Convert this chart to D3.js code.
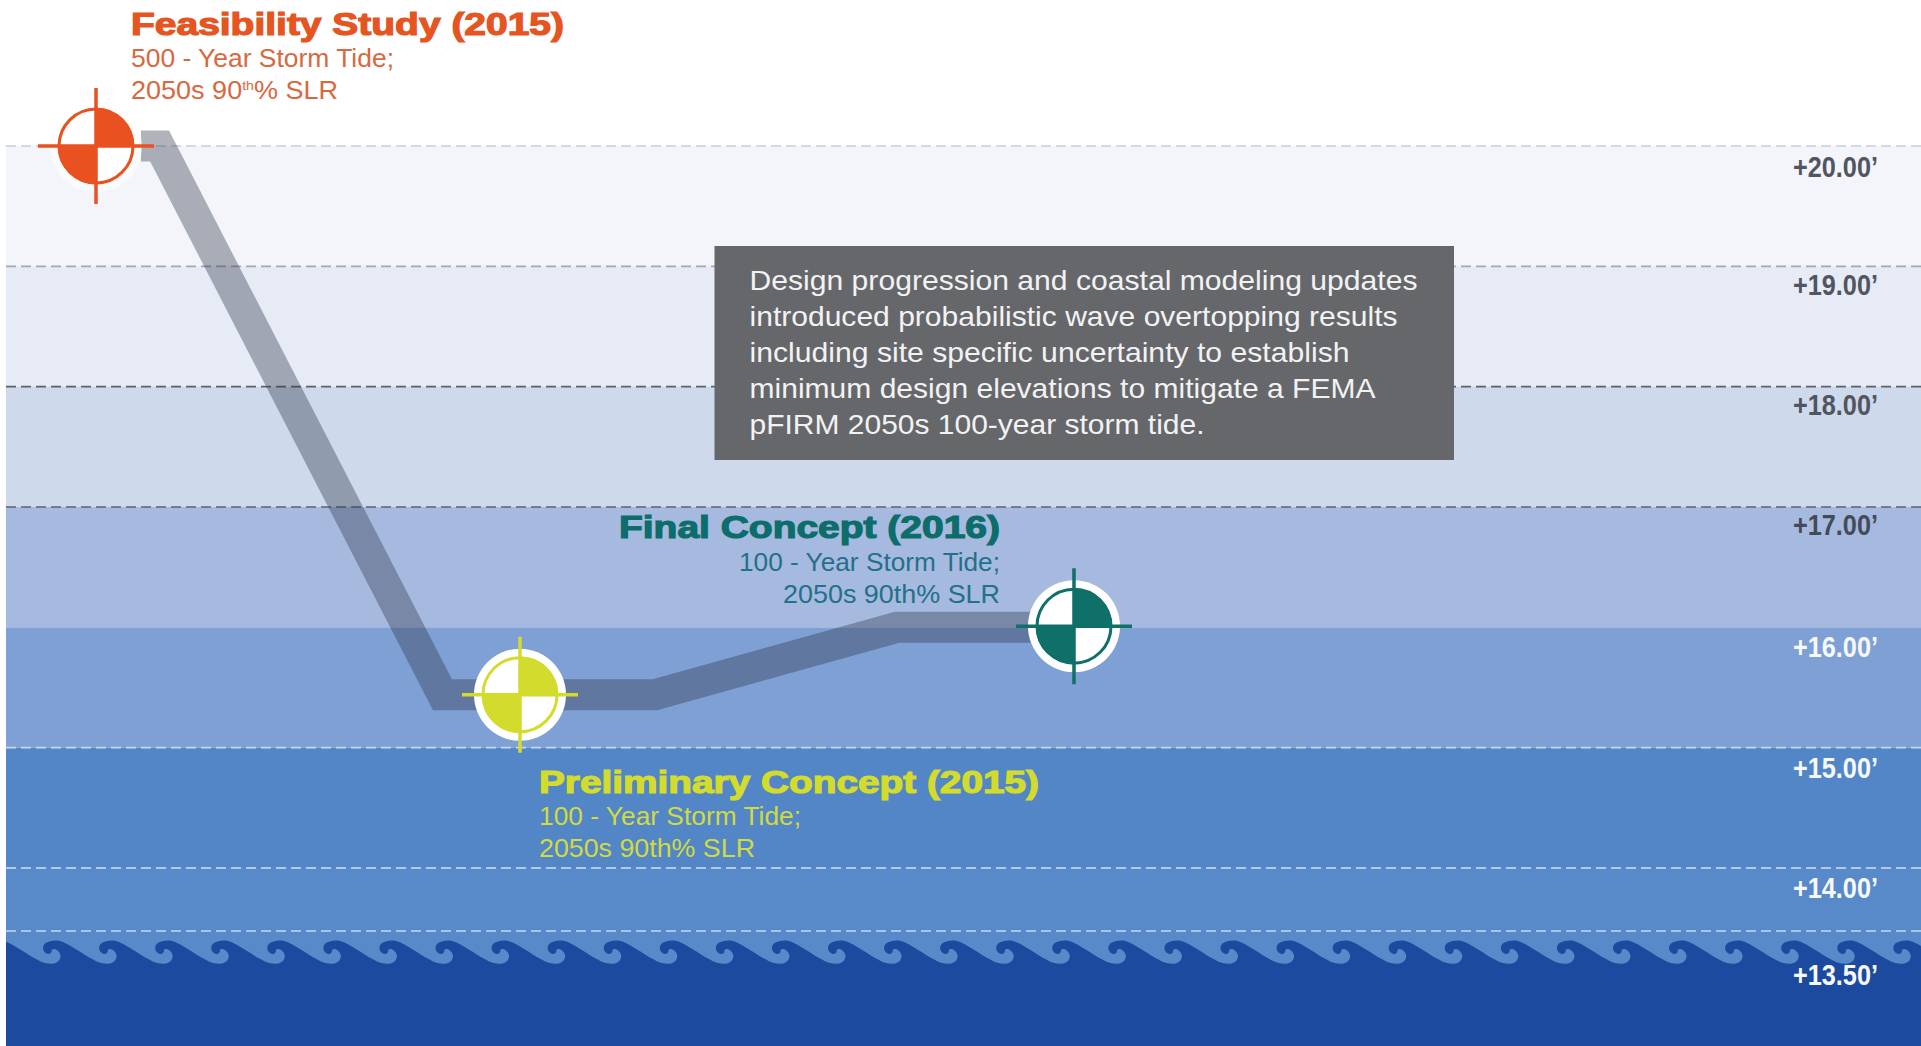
<!DOCTYPE html>
<html>
<head>
<meta charset="utf-8">
<title>Design elevation progression</title>
<script src="https://cdn.jsdelivr.net/npm/d3@7"></script>
<style>
  html, body { margin: 0; padding: 0; background: #fff; overflow: hidden; }
  svg { display: block; }
  text { font-family: "Liberation Sans", Arial, sans-serif; }
</style>
</head>
<body>
<svg id="chart" width="1921" height="1046"></svg>
<script>
// Elevation levels in feet, top to bottom
const levels = [20, 19, 18, 17, 16, 15, 14, 13.5];
const tickLabels = ["+20.00’", "+19.00’", "+18.00’", "+17.00’", "+16.00’", "+15.00’", "+14.00’", "+13.50’"];
const bandFills = ["#f3f5fa", "#e7ebf6", "#ced9ec", "#a6badf", "#7ea0d4", "#5386c6", "#5889c8"];
const lineColors = ["#c9cdd7", "#a3a7b1", "#5a606c", "#5b6274", null, "#c9d7ee", "#d4e0f2", "#c5d6f0"];
const tickColors = ["#50555f", "#50555f", "#50555f", "#454a58", "#f6f8fc", "#f6f8fc", "#f6f8fc", "#f6f8fc"];
const tickDrop = [31, 28.7, 28.3, 28, 29.7, 30.3, 30, 54];

// Design elevation route: position along the design timeline (percent) and elevation (ft)
const routeStage = [7.05, 8.02, 22.79, 33.89, 46.53, 55.77];
const routeElevation = [20, 20, 15.44, 15.44, 16, 16];

// Milestones
const milestoneNames = ["Feasibility Study (2015)", "Preliminary Concept (2015)", "Final Concept (2016)"];
const milestoneStage = [4.7, 26.84, 55.77];
const milestoneElevation = [20, 15.44, 16.01];
const milestoneColors = ["#ea5120", "#d3dc2c", "#0e7068"];

const calloutLines = [
  "Design progression and coastal modeling updates",
  "introduced probabilistic wave overtopping results",
  "including site specific uncertainty to establish",
  "minimum design elevations to mitigate a FEMA",
  "pFIRM 2050s 100-year storm tide."
];

const width = 1921, height = 1046, left = 6;
const svg = d3.select("#chart");

const x = d3.scaleLinear().domain([0, 100]).range([left, width]);
const y = d3.scaleLinear().domain([13.5, 14, 20]).range([931, 868, 146]);

// Elevation bands; the lowest one runs on behind the wave edge
svg.append("g").selectAll("rect")
  .data(bandFills)
  .join("rect")
  .attr("x", left)
  .attr("width", width - left)
  .attr("y", (d, i) => y(levels[i]))
  .attr("height", (d, i) => y(levels[i + 1]) - y(levels[i]) + (i === bandFills.length - 1 ? 50 : 0))
  .attr("fill", d => d);

// Open water with a breaking-wave edge, one crest shape repeated along the width
const waveShape = [
  [-18, 958.5], [-8, 963], [1, 963.5], [6, 960.5], [7.5, 955.5], [5, 951], [1.5, 949],
  [-1, 949.5], [-1.5, 952], [-4, 954], [-8, 952.5], [-10, 948], [-8, 943.5], [-2, 941], [4, 940.5],
  [12, 943], [25, 950.5]
];
const wavePeriod = 56.07, waveOrigin = 53;
const wavePoints = d3.range(-1, 35).flatMap(k =>
  waveShape.map(([dx, wy]) => [waveOrigin + k * wavePeriod + dx, wy]));
const waveLine = d3.line().curve(d3.curveCatmullRom.alpha(0.5));
svg.append("clipPath").attr("id", "plot-clip")
  .append("rect").attr("x", left).attr("y", 0).attr("width", width - left).attr("height", height);
svg.append("path")
  .attr("clip-path", "url(#plot-clip)")
  .attr("d", waveLine(wavePoints) + `L${width + 60},${height}L-60,${height}Z`)
  .attr("fill", "#1c4a9f");

// Dashed elevation lines
svg.append("g").selectAll("line")
  .data(levels.filter((d, i) => lineColors[i]))
  .join("line")
  .attr("x1", left).attr("x2", width)
  .attr("y1", d => y(d)).attr("y2", d => y(d))
  .attr("stroke", d => lineColors[levels.indexOf(d)])
  .attr("stroke-width", 1.6)
  .attr("stroke-dasharray", "10 5");

// Elevation labels, right side
svg.append("g").selectAll("text")
  .data(levels)
  .join("text")
  .attr("x", 1793)
  .attr("y", (d, i) => y(d) + tickDrop[i])
  .attr("fill", (d, i) => tickColors[i])
  .attr("font-weight", 700)
  .attr("font-size", 29)
  .attr("textLength", 85)
  .attr("lengthAdjust", "spacingAndGlyphs")
  .text((d, i) => tickLabels[i]);

// Route band between the milestones
const routeLine = d3.line().x(d => x(d[0])).y(d => y(d[1]));
svg.append("path")
  .attr("d", routeLine(d3.zip(routeStage, routeElevation)))
  .attr("fill", "none")
  .attr("stroke", "#2f374a")
  .attr("stroke-opacity", 0.38)
  .attr("stroke-width", 31)
  .attr("stroke-linejoin", "miter")
  .attr("stroke-miterlimit", 10);

// Callout
svg.append("rect")
  .attr("x", 714.5).attr("y", 246).attr("width", 739.5).attr("height", 214)
  .attr("fill", "#66676b");
const calloutWidths = [668, 648, 600, 626, 455];
svg.append("g").selectAll("text")
  .data(calloutLines)
  .join("text")
  .attr("x", 749.5)
  .attr("y", (d, i) => 289.5 + i * 36.2)
  .attr("fill", "#f2f2f3")
  .attr("font-size", 28)
  .attr("textLength", (d, i) => calloutWidths[i])
  .attr("lengthAdjust", "spacingAndGlyphs")
  .text(d => d);

// Surveyor-style markers
const quarter = d3.arc().innerRadius(0);
const markers = svg.append("g").selectAll("g")
  .data(milestoneNames)
  .join("g")
  .attr("transform", (d, i) => `translate(${x(milestoneStage[i])},${y(milestoneElevation[i])})`);
markers.append("circle").attr("r", 46).attr("fill", "#fff").attr("fill-opacity", (d, i) => i === 0 ? 0.55 : 1);
markers.append("circle").attr("r", 37).attr("fill", "#fff").attr("stroke", (d, i) => milestoneColors[i]).attr("stroke-width", 3);
markers.append("path")
  .attr("d", quarter({ outerRadius: 38, startAngle: 0, endAngle: Math.PI / 2 }))
  .attr("fill", (d, i) => milestoneColors[i]);
markers.append("path")
  .attr("d", quarter({ outerRadius: 38, startAngle: Math.PI, endAngle: Math.PI * 1.5 }))
  .attr("fill", (d, i) => milestoneColors[i]);
markers.append("path")
  .attr("d", "M-58,0H58M0,-58V58")
  .attr("stroke", (d, i) => milestoneColors[i])
  .attr("stroke-width", 3.5)
  .attr("fill", "none");

// Milestone captions: heading, then two detail lines
function caption(name, color, subColor, anchorX, anchor, baselines, widths, details) {
  const startOf = w => anchor === "end" ? anchorX - w : anchorX;
  svg.append("text")
    .attr("x", startOf(widths[0])).attr("y", baselines[0])
    .attr("fill", color).attr("stroke", color).attr("stroke-width", 1.2)
    .attr("font-weight", 700).attr("font-size", 31)
    .attr("textLength", widths[0]).attr("lengthAdjust", "spacingAndGlyphs")
    .text(name);
  details.forEach((parts, k) => {
    const t = svg.append("text")
      .attr("x", startOf(widths[k + 1])).attr("y", baselines[k + 1])
      .attr("fill", subColor).attr("font-size", 25)
      .attr("textLength", widths[k + 1]).attr("lengthAdjust", "spacingAndGlyphs");
    parts.forEach(p => {
      const s = t.append("tspan").text(p.text);
      if (p.sup) s.attr("font-size", 13).attr("dy", -9);
      if (p.after) s.attr("dy", 9);
    });
  });
}
caption(milestoneNames[0], "#e6541f", "#d9683f", 131, "start", [35, 67, 99], [433, 263, 207], [
  [{ text: "500 - Year Storm Tide;" }],
  [{ text: "2050s 90" }, { text: "th", sup: true }, { text: "% SLR", after: true }]
]);
caption(milestoneNames[1], "#d3dc2c", "#d0da42", 539, "start", [793, 825, 857], [500, 262, 216], [
  [{ text: "100 - Year Storm Tide;" }],
  [{ text: "2050s 90th% SLR" }]
]);
caption(milestoneNames[2], "#0d6d6b", "#23708a", 1000, "end", [538, 571, 603], [381, 261, 217], [
  [{ text: "100 - Year Storm Tide;" }],
  [{ text: "2050s 90th% SLR" }]
]);
</script>
</body>
</html>
